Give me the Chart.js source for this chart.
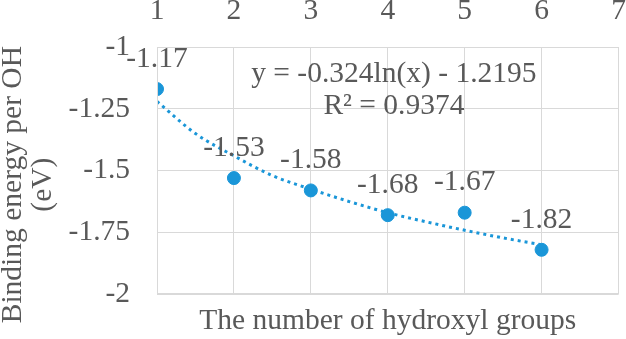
<!DOCTYPE html>
<html>
<head>
<meta charset="utf-8">
<script src="https://cdn.jsdelivr.net/npm/chart.js@4.4.1/dist/chart.umd.min.js"></script>
<style>
html,body{margin:0;padding:0;background:#fff;}
#wrap{width:626px;height:339px;position:relative;}
</style>
</head>
<body>
<div id="wrap"><canvas id="c" width="626" height="339"></canvas></div>
<script>
// Data
const hydroxylCounts = [1, 2, 3, 4, 5, 6];
const bindingEnergy = [-1.17, -1.53, -1.58, -1.68, -1.67, -1.82];
// Logarithmic trendline as drawn in the reference
const trendX = [1, 1.5, 2, 2.5, 3, 3.5, 4, 4.5, 5, 5.5, 6];
const trendY = [-1.22, -1.35, -1.44, -1.52, -1.575, -1.625, -1.67, -1.707, -1.741, -1.772, -1.80];
const xTicks = [1, 2, 3, 4, 5, 6, 7];
const yTicks = [-2, -1.75, -1.5, -1.25, -1];
const xTitle = 'The number of hydroxyl groups';
const yTitle = ['Binding energy per OH', '(eV)'];
const equationText = ['y = -0.324ln(x) - 1.2195', 'R² = 0.9374'];

const FONT = '"Liberation Serif", "Times New Roman", serif';
const FS = 29.5;
const TEXT = '#595959';
const GRID = '#d9d9d9';
const BLUE = '#1a96d8';

const overlay = {
  id: 'overlay',
  afterDatasetsDraw(chart) {
    const ctx = chart.ctx;
    const ca = chart.chartArea;
    ctx.save();
    ctx.fillStyle = TEXT;
    ctx.font = FS + 'px ' + FONT;
    ctx.textAlign = 'center';
    ctx.textBaseline = 'middle';
    // data labels
    const meta = chart.getDatasetMeta(0);
    meta.data.forEach((pt, i) => {
      ctx.fillText(bindingEnergy[i].toFixed(2), pt.x, pt.y - 30);
    });
    // trendline equation
    const xs = chart.scales.x, ys = chart.scales.y;
    ctx.fillText(equationText[0], xs.getPixelForValue(4.08), ys.getPixelForValue(-1.11));
    ctx.fillText(equationText[1], xs.getPixelForValue(4.08), ys.getPixelForValue(-1.24));
    // x title (bottom)
    ctx.fillText(xTitle, (ca.left + ca.right) / 2, ca.bottom + 27);
    // y title (rotated)
    const cy = (ca.top + ca.bottom) / 2 + 14;
    ctx.save();
    ctx.translate(13, cy);
    ctx.rotate(-Math.PI / 2);
    ctx.fillText(yTitle[0], 0, 0);
    ctx.restore();
    ctx.save();
    ctx.translate(43, cy);
    ctx.rotate(-Math.PI / 2);
    ctx.fillText(yTitle[1], 0, 0);
    ctx.restore();
    ctx.restore();
  }
};

new Chart(document.getElementById('c'), {
  type: 'scatter',
  data: {
    datasets: [
      {
        label: 'Binding energy',
        data: hydroxylCounts.map((x, i) => ({x: x, y: bindingEnergy[i]})),
        backgroundColor: BLUE,
        borderColor: BLUE,
        pointRadius: 6.5,
        pointHoverRadius: 6.5,
        showLine: false,
        order: 0
      },
      {
        label: 'Log trendline',
        data: trendX.map((x, i) => ({x: x, y: trendY[i]})),
        showLine: true,
        borderColor: BLUE,
        borderWidth: 3,
        borderDash: [3, 4],
        borderCapStyle: 'butt',
        cubicInterpolationMode: 'monotone',
        pointRadius: 0,
        fill: false,
        order: 1
      }
    ]
  },
  options: {
    responsive: false,
    animation: false,
    devicePixelRatio: 1,
    layout: { padding: { left: 0, right: 7, top: 0, bottom: 38 } },
    plugins: { legend: { display: false }, tooltip: { enabled: false } },
    scales: {
      x: {
        type: 'linear',
        position: 'top',
        min: 1, max: 7,
        afterBuildTicks(scale) { scale.ticks = xTicks.map(v => ({value: v})); },
        afterFit(scale) { scale.height = 47; scale.paddingLeft = 0; scale.paddingRight = 0; },
        ticks: { font: { family: FONT, size: FS }, color: TEXT, padding: 18 },
        grid: { color: GRID, lineWidth: 1, drawTicks: false },
        border: { display: true, color: GRID }
      },
      y: {
        type: 'linear',
        min: -2, max: -1,
        afterBuildTicks(scale) { scale.ticks = yTicks.map(v => ({value: v})); },
        afterFit(scale) { scale.width = 157; },
        ticks: { font: { family: FONT, size: FS }, color: TEXT, padding: 27,
                 callback: v => String(v) },
        grid: { color: GRID, lineWidth: 1, drawTicks: false },
        border: { display: true, color: GRID }
      }
    }
  },
  plugins: [overlay, {
    id: 'frame',
    afterDraw(chart) {
      const ca = chart.chartArea, ctx = chart.ctx;
      ctx.save();
      ctx.strokeStyle = GRID; ctx.lineWidth = 1;
      ctx.strokeRect(Math.round(ca.left) + 0.5, Math.round(ca.top) + 0.5,
                     Math.round(ca.right - ca.left) - 1, Math.round(ca.bottom - ca.top) - 1);
      ctx.restore();
    }
  }]
});
</script>
</body>
</html>
